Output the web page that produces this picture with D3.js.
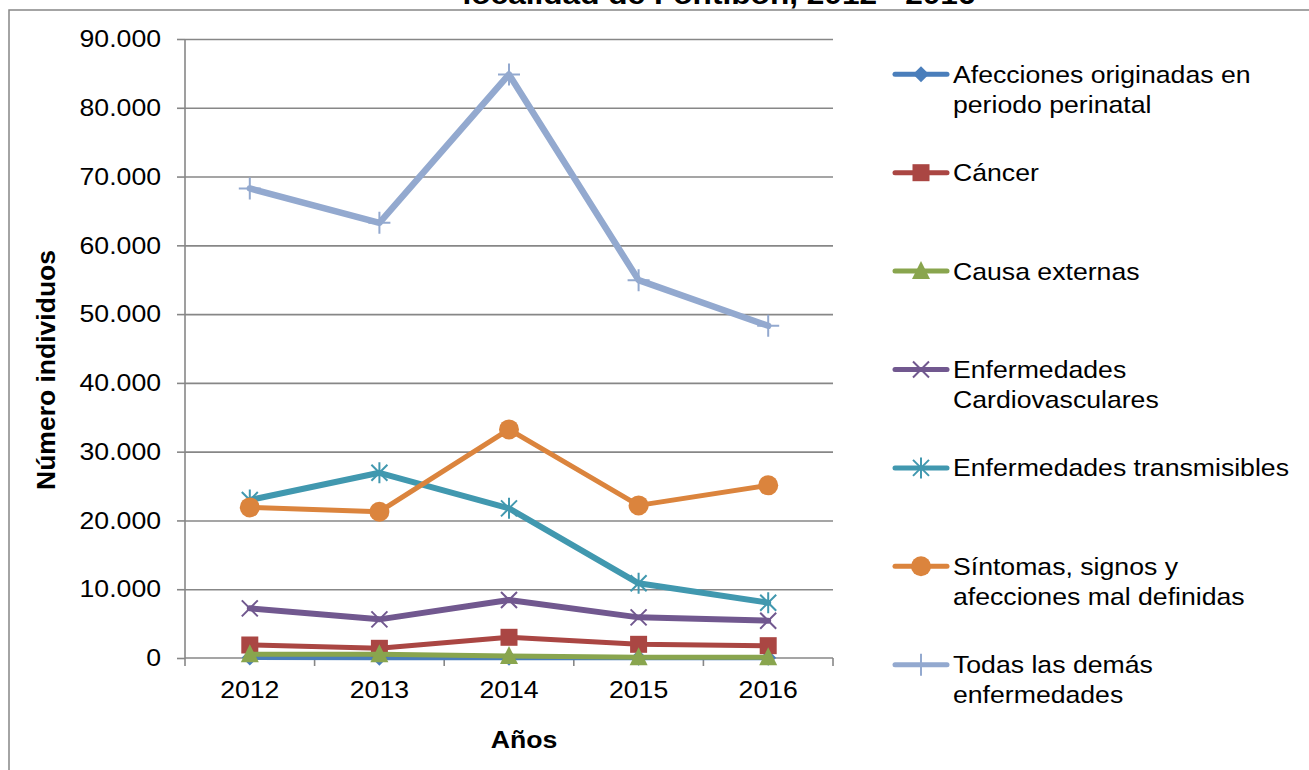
<!DOCTYPE html>
<html>
<head>
<meta charset="utf-8">
<script src="https://cdn.jsdelivr.net/npm/d3@7"></script>
<style>
  html, body { margin: 0; padding: 0; background: #fff; overflow: hidden; }
  svg { display: block; font-family: "Liberation Sans", Arial, sans-serif; }
</style>
</head>
<body>
<svg id="chart" width="1309" height="770"></svg>
<script>
// Mortalidad por grandes causas, localidad de Fontibón, 2012 - 2016
const years = ["2012", "2013", "2014", "2015", "2016"];
const yTicks = [0, 10000, 20000, 30000, 40000, 50000, 60000, 70000, 80000, 90000];

const afeccionesPerinatal = [60, 50, 40, 40, 30];
const cancer = [1890, 1410, 3010, 1990, 1790];
const causaExternas = [550, 550, 300, 120, 100];
const cardiovasculares = [7220, 5620, 8430, 5910, 5420];
const transmisibles = [22970, 26930, 21760, 10860, 8040];
const sintomas = [21900, 21270, 33240, 22190, 25100];
const demasEnfermedades = [68270, 63270, 84840, 54940, 48300];

const seriesNames = [
  "Afecciones originadas en periodo perinatal",
  "Cáncer",
  "Causa externas",
  "Enfermedades Cardiovasculares",
  "Enfermedades transmisibles",
  "Síntomas, signos y afecciones mal definidas",
  "Todas las demás enfermedades"
];
const legendLines = [
  ["Afecciones originadas en", "periodo perinatal"],
  ["Cáncer"],
  ["Causa externas"],
  ["Enfermedades", "Cardiovasculares"],
  ["Enfermedades transmisibles"],
  ["Síntomas, signos y", "afecciones mal definidas"],
  ["Todas las demás", "enfermedades"]
];
const seriesValues = [afeccionesPerinatal, cancer, causaExternas, cardiovasculares,
                      transmisibles, sintomas, demasEnfermedades];

const colors = ["#4A7EBB", "#AA4643", "#89A54E", "#71588F", "#4198AF", "#DB843D", "#93A9CF"];
const markers = ["diamond", "square", "triangle", "x", "star", "circle", "plus"];
const lineWidths = [5, 5, 5, 6, 6, 5, 6.5];

const title = "localidad de Fontibón, 2012 - 2016";
const yTitle = "Número individuos";
const xTitle = "Años";

// Layout
const SX = 1.11;           // horizontal stretch of glyphs
const plot = { left: 185, right: 833, top: 39, bottom: 658 };
const gridColor = "#878787";

const svg = d3.select("#chart");

const x = d3.scaleBand().domain(years).range([plot.left, plot.right]).padding(0);
const xc = d => x(d) + x.bandwidth() / 2;
const y = d3.scaleLinear().domain([0, 90000]).range([plot.bottom, plot.top]);

const fmtLocale = d3.formatLocale({ decimal: ",", thousands: ".", grouping: [3], currency: ["$", ""] });
const fmt = fmtLocale.format(",d");

// outer frame
svg.append("rect")
  .attr("x", 9).attr("y", 10).attr("width", 1400).attr("height", 800)
  .attr("fill", "none").attr("stroke", gridColor).attr("stroke-width", 1.5);

// title (upper line lies beyond the page)
svg.append("text")
  .attr("transform", `translate(719,4) scale(${SX},1)`)
  .attr("text-anchor", "middle")
  .attr("font-weight", "bold").attr("font-size", 28.5)
  .attr("fill", "#000")
  .text(title);

// horizontal gridlines
svg.append("g")
  .attr("transform", `translate(${plot.left},0)`)
  .call(d3.axisLeft(y).tickValues(yTicks.slice(1)).tickSize(-(plot.right - plot.left)).tickFormat(""))
  .call(g => g.select(".domain").remove())
  .call(g => g.selectAll("line").attr("stroke", gridColor).attr("stroke-width", 1.6));

// y axis
const pad = 16;
svg.append("g")
  .attr("transform", `translate(${plot.left},0)`)
  .call(d3.axisLeft(y).tickValues(yTicks).tickSize(8).tickPadding(pad).tickFormat(fmt))
  .call(g => g.select(".domain").attr("stroke", gridColor).attr("stroke-width", 1.6)
                .attr("d", `M0,${plot.bottom}V${plot.top}`))
  .call(g => g.selectAll("line").attr("stroke", gridColor).attr("stroke-width", 1.6))
  .call(g => g.selectAll("text")
      .attr("font-family", "Liberation Sans, Arial, sans-serif")
      .attr("font-size", 24).attr("fill", "#000")
      .attr("x", -(8 + pad) / SX)
      .attr("transform", `scale(${SX},1)`));

// x axis line and category boundary ticks
const boundaries = years.map(d => x(d)).concat([plot.right]);
svg.append("line")
  .attr("x1", plot.left).attr("x2", plot.right)
  .attr("y1", plot.bottom).attr("y2", plot.bottom)
  .attr("stroke", gridColor).attr("stroke-width", 1.6);
svg.append("g").selectAll("line").data(boundaries).join("line")
  .attr("x1", d => d).attr("x2", d => d)
  .attr("y1", plot.bottom).attr("y2", plot.bottom + 8)
  .attr("stroke", gridColor).attr("stroke-width", 1.6);
svg.append("g").selectAll("text").data(years).join("text")
  .attr("transform", d => `translate(${xc(d)},698) scale(${SX},1)`)
  .attr("text-anchor", "middle").attr("font-size", 24).attr("fill", "#000")
  .text(d => d);

// axis titles
svg.append("text")
  .attr("transform", `translate(55,370) rotate(-90)`)
  .attr("text-anchor", "middle").attr("font-weight", "bold").attr("font-size", 26.5)
  .text(yTitle);
svg.append("text")
  .attr("transform", `translate(524,748) scale(${SX},1)`)
  .attr("text-anchor", "middle").attr("font-weight", "bold").attr("font-size", 24)
  .text(xTitle);

// marker drawing
function drawMarker(g, type, color) {
  switch (type) {
    case "diamond":
      g.append("path").attr("d", "M0,-8L8,0L0,8L-8,0Z").attr("fill", color);
      break;
    case "square":
      g.append("rect").attr("x", -8.5).attr("y", -8.5).attr("width", 17).attr("height", 17).attr("fill", color);
      break;
    case "triangle":
      g.append("path").attr("d", "M0,-10L9,8L-9,8Z").attr("fill", color);
      break;
    case "x":
      g.append("path").attr("d", "M-8,-8L8,8M-8,8L8,-8")
        .attr("stroke", color).attr("stroke-width", 2).attr("fill", "none");
      break;
    case "star":
      g.append("path").attr("d", "M-8,-8L8,8M-8,8L8,-8M0,-10.5V10.5")
        .attr("stroke", color).attr("stroke-width", 2).attr("fill", "none");
      break;
    case "circle":
      g.append("circle").attr("r", 10).attr("fill", color);
      break;
    case "plus":
      g.append("path").attr("d", "M-11,0H11M0,-11V11")
        .attr("stroke", color).attr("stroke-width", 2).attr("fill", "none");
      break;
  }
}

// series lines and markers
const line = d3.line().x((d, i) => xc(years[i])).y(d => y(d));
seriesValues.forEach((vals, s) => {
  const g = svg.append("g").attr("class", "series");
  g.append("path")
    .attr("d", line(vals))
    .attr("fill", "none").attr("stroke", colors[s])
    .attr("stroke-width", lineWidths[s]).attr("stroke-linejoin", "round").attr("stroke-linecap", "round");
  vals.forEach((v, i) => {
    const m = g.append("g").attr("transform", `translate(${xc(years[i])},${y(v)})`);
    drawMarker(m, markers[s], colors[s]);
  });
});

// legend
const legendTop = 74.3, legendStep = 98.4;
seriesNames.forEach((name, s) => {
  const cy = legendTop + s * legendStep;
  const g = svg.append("g").attr("class", "legend-item");
  g.append("line")
    .attr("x1", 895).attr("x2", 947).attr("y1", cy).attr("y2", cy)
    .attr("stroke", colors[s]).attr("stroke-width", 5).attr("stroke-linecap", "round");
  drawMarker(g.append("g").attr("transform", `translate(921,${cy})`), markers[s], colors[s]);
  legendLines[s].forEach((ln, k) => {
    g.append("text")
      .attr("transform", `translate(953,${cy + 8.5 + k * 30}) scale(${SX},1)`)
      .attr("font-size", 24).attr("fill", "#000")
      .text(ln);
  });
});
</script>
</body>
</html>
